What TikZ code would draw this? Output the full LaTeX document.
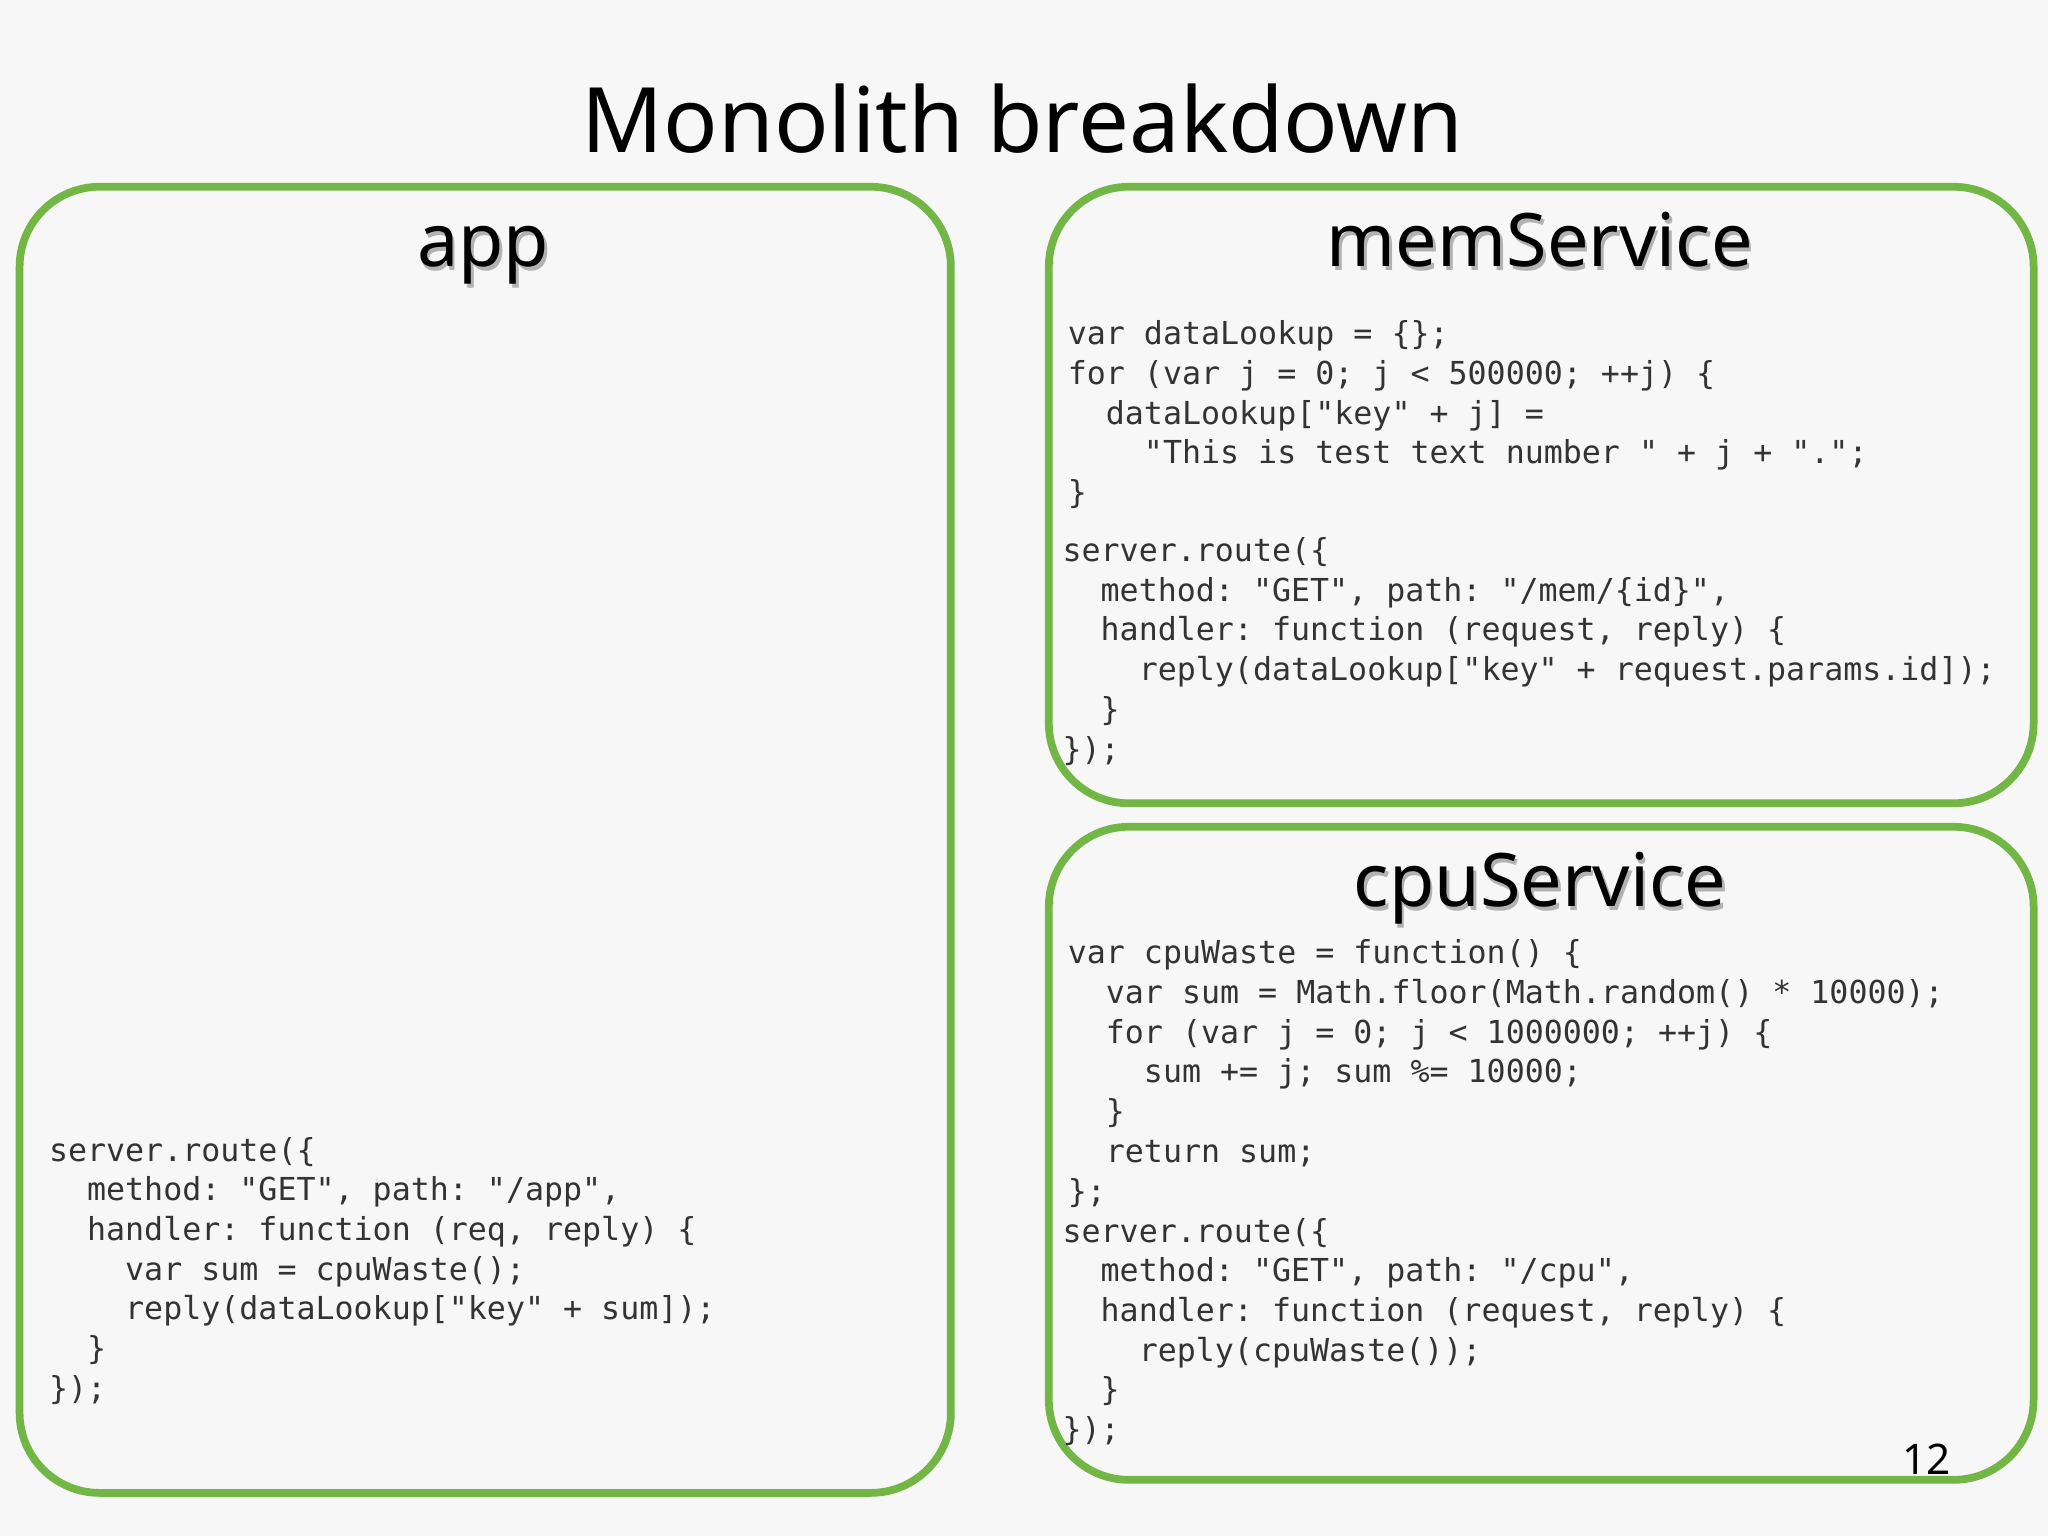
\documentclass[tikz,border=0pt]{standalone}
\usepackage{fontspec}
\setmainfont{Noto Sans}
\setmonofont{DejaVu Sans Mono}
\usetikzlibrary{positioning}
\definecolor{boxgreen}{HTML}{72B645}
\definecolor{codegray}{HTML}{333333}
\tikzstyle{svcbox}=[draw=boxgreen, line width=2.2pt, rounded corners=0.8cm]
\tikzstyle{svctitle}=[font=\fontsize{21}{25}\selectfont, anchor=base, inner sep=0pt]
\tikzstyle{code}=[font=\ttfamily\fontsize{9}{11.3}\selectfont, text=codegray, align=left, anchor=north west, inner sep=0pt]
\newcommand{\ind}[1]{\hspace*{#1\dimexpr0.602em\relax}}

\begin{document}
\begin{tikzpicture}[x=0.01306cm, y=-0.01306cm]
\useasboundingbox[fill=black!3] (0,0) rectangle (1568,1176);
% the title
\node[font=\fontsize{25.7}{30}\selectfont, inner sep=0pt, anchor=base] (title) at (783,117) {Monolith breakdown};
% the boxes
\draw[svcbox] (15,143) rectangle (728,1143);
\draw[svcbox] (803,143) rectangle (1557,615);
\draw[svcbox] (803,633) rectangle (1557,1133);
% the box titles (with a soft shadow)
\node[svctitle, text=black!30] at (372,207) {app};
\node[svctitle] (apptitle) at (370,204) {app};
\node[svctitle, text=black!30] at (1181,207) {memService};
\node[svctitle] (memtitle) at (1179,204) {memService};
\node[svctitle, text=black!30] at (1181,697) {cpuService};
\node[svctitle] (cputitle) at (1179,694) {cpuService};
% the code
\node[code] (appcode) at (37,870) {%
server.route(\{\\
\ind{2}method: "GET", path: "/app",\\
\ind{2}handler: function (req, reply) \{\\
\ind{4}var sum = cpuWaste();\\
\ind{4}reply(dataLookup["key" + sum]);\\
\ind{2}\}\\
\});};
\node[code] (memdata) at (817,245) {%
var dataLookup = \{\};\\
for (var j = 0; j < 500000; ++j) \{\\
\ind{2}dataLookup["key" + j] =\\
\ind{4}"This is test text number " + j + ".";\\
\}};
\node[code] (memroute) at (813,411) {%
server.route(\{\\
\ind{2}method: "GET", path: "/mem/\{id\}",\\
\ind{2}handler: function (request, reply) \{\\
\ind{4}reply(dataLookup["key" + request.params.id]);\\
\ind{2}\}\\
\});};
\node[code] (cpuwaste) at (817,719) {%
var cpuWaste = function() \{\\
\ind{2}var sum = Math.floor(Math.random() * 10000);\\
\ind{2}for (var j = 0; j < 1000000; ++j) \{\\
\ind{4}sum += j; sum \%= 10000;\\
\ind{2}\}\\
\ind{2}return sum;\\
\};};
\node[code] (cpuroute) at (813,932) {%
server.route(\{\\
\ind{2}method: "GET", path: "/cpu",\\
\ind{2}handler: function (request, reply) \{\\
\ind{4}reply(cpuWaste());\\
\ind{2}\}\\
\});};
% the page number
\node[font=\fontsize{12}{14}\selectfont, inner sep=0pt, anchor=base] (pagenum) at (1475,1129) {12};
\end{tikzpicture}
\end{document}
